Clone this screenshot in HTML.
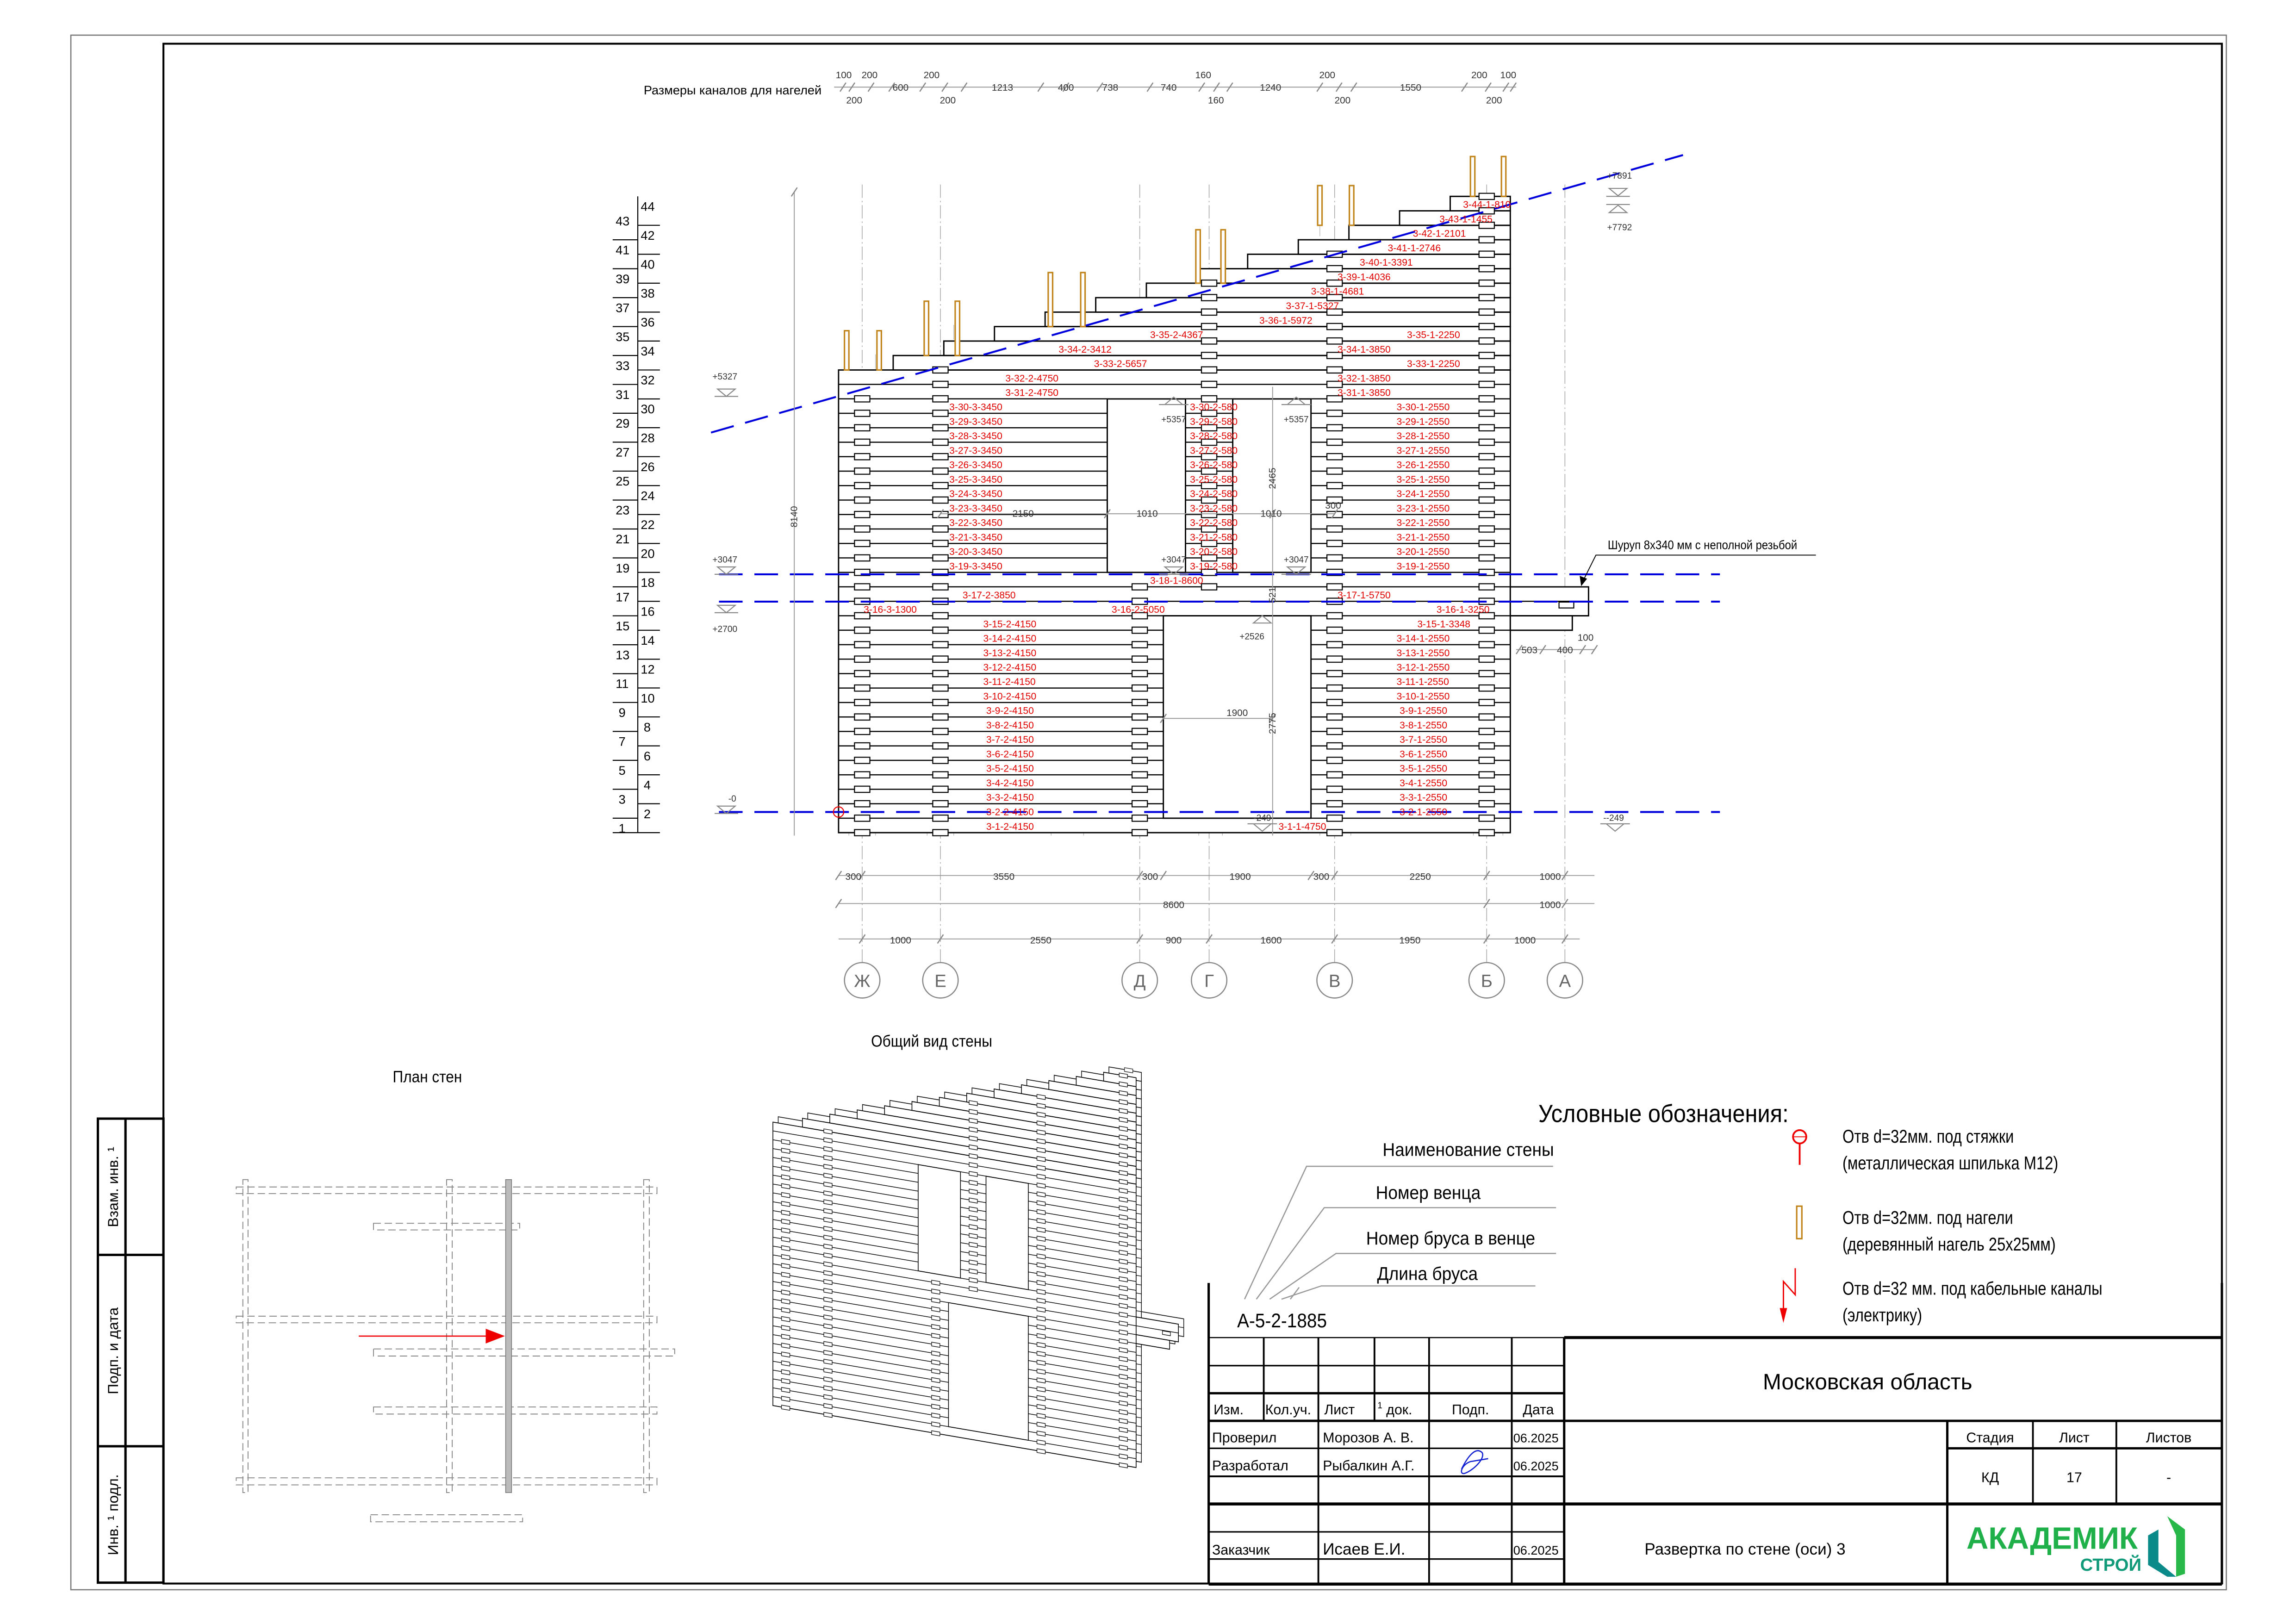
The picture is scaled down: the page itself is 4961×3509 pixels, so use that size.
<!DOCTYPE html>
<html><head><meta charset="utf-8"><style>
html,body{margin:0;padding:0;background:#fff;}
svg{display:block;}
text{font-family:"Liberation Sans Narrow","Liberation Sans",sans-serif;}
.r{fill:#e00000;font-size:6.6px;}
.d{fill:#333;font-size:6.5px;}
.k{fill:#000;}
</style></head><body>
<svg width="4961" height="3509" viewBox="0 0 1555.2 1100" xmlns="http://www.w3.org/2000/svg">
<defs>
<pattern id="hl" patternUnits="userSpaceOnUse" x="0" y="0.78" width="20" height="9.795">
<rect x="0" y="0" width="20" height="9.795" fill="#fff"/>
<line x1="0" y1="4.8975" x2="20" y2="4.8975" stroke="#000" stroke-width="0.8"/>
</pattern>
<pattern id="dw" patternUnits="userSpaceOnUse" x="0" y="0.78" width="12" height="9.795">
<rect x="0.8" y="2.8" width="10.4" height="4.2" fill="#fff" stroke="#000" stroke-width="0.7"/>
</pattern>
<g id="wallg">
<rect x="568" y="250.6" width="455" height="313.4" fill="url(#hl)" stroke="#000" stroke-width="0.9"/>
<rect x="605" y="240.8" width="418" height="9.795" fill="url(#hl)" stroke="#000" stroke-width="0.9"/>
<rect x="639.3" y="231.0" width="383.7" height="9.795" fill="url(#hl)" stroke="#000" stroke-width="0.9"/>
<rect x="673.6" y="221.2" width="349.4" height="9.795" fill="url(#hl)" stroke="#000" stroke-width="0.9"/>
<rect x="707.9" y="211.4" width="315.1" height="9.795" fill="url(#hl)" stroke="#000" stroke-width="0.9"/>
<rect x="742.2" y="201.6" width="280.8" height="9.795" fill="url(#hl)" stroke="#000" stroke-width="0.9"/>
<rect x="776.5" y="191.8" width="246.5" height="9.795" fill="url(#hl)" stroke="#000" stroke-width="0.9"/>
<rect x="810.8" y="182.0" width="212.2" height="9.795" fill="url(#hl)" stroke="#000" stroke-width="0.9"/>
<rect x="845.1" y="172.2" width="177.9" height="9.795" fill="url(#hl)" stroke="#000" stroke-width="0.9"/>
<rect x="879.4" y="162.4" width="143.6" height="9.795" fill="url(#hl)" stroke="#000" stroke-width="0.9"/>
<rect x="913.7" y="152.6" width="109.3" height="9.795" fill="url(#hl)" stroke="#000" stroke-width="0.9"/>
<rect x="948" y="142.8" width="75" height="9.795" fill="url(#hl)" stroke="#000" stroke-width="0.9"/>
<rect x="982.3" y="133.0" width="40.7" height="9.795" fill="url(#hl)" stroke="#000" stroke-width="0.9"/>
<rect x="1023" y="397.5" width="53" height="19.6" fill="url(#hl)" stroke="#000" stroke-width="0.9"/>
<rect x="1023" y="417.1" width="42" height="9.8" fill="url(#hl)" stroke="#000" stroke-width="0.9"/>
<rect x="1056" y="407.8" width="10" height="4" fill="#fff" stroke="#000" stroke-width="0.7"/>
<rect x="750" y="270.2" width="53" height="117.5" fill="#fff" stroke="#000" stroke-width="0.9"/>
<rect x="835" y="270.2" width="53" height="117.5" fill="#fff" stroke="#000" stroke-width="0.9"/>
<rect x="788" y="417.1" width="100" height="137.1" fill="#fff" stroke="#000" stroke-width="0.9"/>
<g transform="translate(578,0)"><rect x="0" y="267.7" width="12" height="298.8" fill="url(#dw)"/></g>
<g transform="translate(631,0)"><rect x="0" y="248.1" width="12" height="318.4" fill="url(#dw)"/></g>
<g transform="translate(766,0)"><rect x="0" y="395" width="12" height="171.5" fill="url(#dw)"/></g>
<g transform="translate(813,0)"><rect x="0" y="189.3" width="12" height="210.7" fill="url(#dw)"/></g>
<g transform="translate(898,0)"><rect x="0" y="169.7" width="12" height="396.8" fill="url(#dw)"/></g>
<g transform="translate(1001,0)"><rect x="0" y="130.5" width="12" height="436" fill="url(#dw)"/></g>
</g>
</defs>
<rect width="1555.2" height="1100" fill="#fff"/>

<!-- frames -->
<rect x="48" y="23.8" width="1460" height="1053" fill="none" stroke="#777" stroke-width="0.8"/>
<rect x="110.7" y="29.6" width="1394.3" height="1043" fill="none" stroke="#000" stroke-width="1.3"/>
<g stroke="#000" stroke-width="1.6" fill="none">
<rect x="66.3" y="757.7" width="44.4" height="314.3"/>
<line x1="85" y1="757.7" x2="85" y2="1072"/>
<line x1="66.3" y1="850" x2="110.7" y2="850"/>
<line x1="66.3" y1="979.6" x2="110.7" y2="979.6"/>
</g>
<text transform="translate(80,804) rotate(-90)" text-anchor="middle" font-size="10">Взам. инв. ¹</text>
<text transform="translate(80,915) rotate(-90)" text-anchor="middle" font-size="10">Подп. и дата</text>
<text transform="translate(80,1026) rotate(-90)" text-anchor="middle" font-size="10">Инв. ¹ подл.</text>

<!-- gray axis / dashed verticals -->
<g stroke="#aaa" stroke-width="0.5" stroke-dasharray="9 2 1 2" fill="none">
<line x1="584" y1="125" x2="584" y2="652"/><line x1="637" y1="125" x2="637" y2="652"/>
<line x1="772" y1="125" x2="772" y2="652"/><line x1="819" y1="125" x2="819" y2="652"/>
<line x1="904" y1="125" x2="904" y2="652"/><line x1="1007" y1="125" x2="1007" y2="652"/>
<line x1="1060" y1="125" x2="1060" y2="652"/>
</g>
<g stroke="#bbb" stroke-width="0.45" stroke-dasharray="10 2" fill="none">
<line x1="575" y1="240" x2="575" y2="566"/><line x1="593" y1="240" x2="593" y2="566"/>
<line x1="628" y1="220" x2="628" y2="566"/><line x1="646" y1="220" x2="646" y2="566"/>
<line x1="712" y1="200" x2="712" y2="566"/><line x1="734" y1="200" x2="734" y2="566"/>
<line x1="812" y1="175" x2="812" y2="566"/><line x1="828" y1="175" x2="828" y2="566"/>
<line x1="894" y1="150" x2="894" y2="566"/><line x1="915" y1="150" x2="915" y2="566"/>
<line x1="998" y1="130" x2="998" y2="566"/><line x1="1018" y1="130" x2="1018" y2="566"/>
</g>

<use href="#wallg"/>

<!-- nagels -->
<g fill="#fff" stroke="#c0841a" stroke-width="1">
<rect x="572" y="224" width="3" height="26.6"/><rect x="594" y="224" width="3" height="26.6"/>
<rect x="626" y="204" width="3" height="36.8"/><rect x="647" y="204" width="3" height="36.8"/>
<rect x="710" y="184.6" width="3" height="36.6"/><rect x="732" y="184.6" width="3" height="36.6"/>
<rect x="810" y="155.6" width="3" height="36.2"/><rect x="827" y="155.6" width="3" height="36.2"/>
<rect x="892.5" y="125.7" width="3" height="26.9"/><rect x="914" y="125.7" width="3" height="26.9"/>
<rect x="996" y="106" width="3" height="27"/><rect x="1017" y="106" width="3" height="27"/>
</g>

<g stroke="#0000dd" stroke-width="1.3" stroke-dasharray="16 8" fill="none">
<line x1="481.6" y1="293" x2="1140" y2="105"/>
<line x1="487" y1="389" x2="1165" y2="389"/>
<line x1="487" y1="407.5" x2="1165" y2="407.5"/>
<line x1="487" y1="550" x2="1165" y2="550"/>
</g>
<circle cx="568" cy="550" r="3.5" fill="none" stroke="#e00" stroke-width="0.7"/>

<!-- left row scale -->
<g stroke="#000" stroke-width="0.7">
<line x1="432" y1="133" x2="432" y2="564"/>
<line x1="432" y1="152.6" x2="447" y2="152.6"/><line x1="415" y1="162.4" x2="432" y2="162.4"/>
<line x1="432" y1="172.2" x2="447" y2="172.2"/><line x1="415" y1="182.0" x2="432" y2="182.0"/>
<line x1="432" y1="191.8" x2="447" y2="191.8"/><line x1="415" y1="201.6" x2="432" y2="201.6"/>
<line x1="432" y1="211.4" x2="447" y2="211.4"/><line x1="415" y1="221.2" x2="432" y2="221.2"/>
<line x1="432" y1="231.0" x2="447" y2="231.0"/><line x1="415" y1="240.8" x2="432" y2="240.8"/>
<line x1="432" y1="250.6" x2="447" y2="250.6"/><line x1="415" y1="260.4" x2="432" y2="260.4"/>
<line x1="432" y1="270.2" x2="447" y2="270.2"/><line x1="415" y1="279.9" x2="432" y2="279.9"/>
<line x1="432" y1="289.7" x2="447" y2="289.7"/><line x1="415" y1="299.5" x2="432" y2="299.5"/>
<line x1="432" y1="309.3" x2="447" y2="309.3"/><line x1="415" y1="319.1" x2="432" y2="319.1"/>
<line x1="432" y1="328.9" x2="447" y2="328.9"/><line x1="415" y1="338.7" x2="432" y2="338.7"/>
<line x1="432" y1="348.5" x2="447" y2="348.5"/><line x1="415" y1="358.3" x2="432" y2="358.3"/>
<line x1="432" y1="368.1" x2="447" y2="368.1"/><line x1="415" y1="377.9" x2="432" y2="377.9"/>
<line x1="432" y1="387.7" x2="447" y2="387.7"/><line x1="415" y1="397.5" x2="432" y2="397.5"/>
<line x1="432" y1="407.3" x2="447" y2="407.3"/><line x1="415" y1="417.1" x2="432" y2="417.1"/>
<line x1="432" y1="426.9" x2="447" y2="426.9"/><line x1="415" y1="436.7" x2="432" y2="436.7"/>
<line x1="432" y1="446.5" x2="447" y2="446.5"/><line x1="415" y1="456.3" x2="432" y2="456.3"/>
<line x1="432" y1="466.0" x2="447" y2="466.0"/><line x1="415" y1="475.8" x2="432" y2="475.8"/>
<line x1="432" y1="485.6" x2="447" y2="485.6"/><line x1="415" y1="495.4" x2="432" y2="495.4"/>
<line x1="432" y1="505.2" x2="447" y2="505.2"/><line x1="415" y1="515.0" x2="432" y2="515.0"/>
<line x1="432" y1="524.8" x2="447" y2="524.8"/><line x1="415" y1="534.6" x2="432" y2="534.6"/>
<line x1="432" y1="544.4" x2="447" y2="544.4"/><line x1="415" y1="554.2" x2="432" y2="554.2"/>
<line x1="432" y1="564" x2="447" y2="564"/><line x1="415" y1="564" x2="432" y2="564"/>
</g>
<g font-size="8.5" class="k">
<text x="434" y="142.8">44</text><text x="417" y="152.6">43</text><text x="434" y="162.4">42</text><text x="417" y="172.2">41</text>
<text x="434" y="182.0">40</text><text x="417" y="191.8">39</text><text x="434" y="201.6">38</text><text x="417" y="211.4">37</text>
<text x="434" y="221.2">36</text><text x="417" y="231.0">35</text><text x="434" y="240.8">34</text><text x="417" y="250.6">33</text>
<text x="434" y="260.4">32</text><text x="417" y="270.2">31</text><text x="434" y="279.9">30</text><text x="417" y="289.7">29</text>
<text x="434" y="299.5">28</text><text x="417" y="309.3">27</text><text x="434" y="319.1">26</text><text x="417" y="328.9">25</text>
<text x="434" y="338.7">24</text><text x="417" y="348.5">23</text><text x="434" y="358.3">22</text><text x="417" y="368.1">21</text>
<text x="434" y="377.9">20</text><text x="417" y="387.7">19</text><text x="434" y="397.5">18</text><text x="417" y="407.3">17</text>
<text x="434" y="417.1">16</text><text x="417" y="426.9">15</text><text x="434" y="436.7">14</text><text x="417" y="446.5">13</text>
<text x="434" y="456.3">12</text><text x="417" y="466.0">11</text><text x="434" y="475.8">10</text><text x="419" y="485.6">9</text>
<text x="436" y="495.4">8</text><text x="419" y="505.2">7</text><text x="436" y="515.0">6</text><text x="419" y="524.8">5</text>
<text x="436" y="534.6">4</text><text x="419" y="544.4">3</text><text x="436" y="554.2">2</text><text x="419" y="564">1</text>
</g>

<g class="r">
<text x="991" y="140.8">3-44-1-810</text>
<text x="975" y="150.6">3-43-1-1455</text>
<text x="957" y="160.4">3-42-1-2101</text>
<text x="940" y="170.2">3-41-1-2746</text>
<text x="921" y="180.0">3-40-1-3391</text>
<text x="906" y="189.8">3-39-1-4036</text>
<text x="888" y="199.6">3-38-1-4681</text>
<text x="871" y="209.4">3-37-1-5327</text>
<text x="853" y="219.2">3-36-1-5972</text>
<text x="779" y="229.0">3-35-2-4367</text><text x="953" y="229.0">3-35-1-2250</text>
<text x="717" y="238.8">3-34-2-3412</text><text x="906" y="238.8">3-34-1-3850</text>
<text x="741" y="248.6">3-33-2-5657</text><text x="953" y="248.6">3-33-1-2250</text>
<text x="681" y="258.4">3-32-2-4750</text><text x="906" y="258.4">3-32-1-3850</text>
<text x="681" y="268.2">3-31-2-4750</text><text x="906" y="268.2">3-31-1-3850</text>
<text x="643" y="277.9">3-30-3-3450</text><text x="806" y="277.9">3-30-2-580</text><text x="946" y="277.9">3-30-1-2550</text>
<text x="643" y="287.7">3-29-3-3450</text><text x="806" y="287.7">3-29-2-580</text><text x="946" y="287.7">3-29-1-2550</text>
<text x="643" y="297.5">3-28-3-3450</text><text x="806" y="297.5">3-28-2-580</text><text x="946" y="297.5">3-28-1-2550</text>
<text x="643" y="307.3">3-27-3-3450</text><text x="806" y="307.3">3-27-2-580</text><text x="946" y="307.3">3-27-1-2550</text>
<text x="643" y="317.1">3-26-3-3450</text><text x="806" y="317.1">3-26-2-580</text><text x="946" y="317.1">3-26-1-2550</text>
<text x="643" y="326.9">3-25-3-3450</text><text x="806" y="326.9">3-25-2-580</text><text x="946" y="326.9">3-25-1-2550</text>
<text x="643" y="336.7">3-24-3-3450</text><text x="806" y="336.7">3-24-2-580</text><text x="946" y="336.7">3-24-1-2550</text>
<text x="643" y="346.5">3-23-3-3450</text><text x="806" y="346.5">3-23-2-580</text><text x="946" y="346.5">3-23-1-2550</text>
<text x="643" y="356.3">3-22-3-3450</text><text x="806" y="356.3">3-22-2-580</text><text x="946" y="356.3">3-22-1-2550</text>
<text x="643" y="366.1">3-21-3-3450</text><text x="806" y="366.1">3-21-2-580</text><text x="946" y="366.1">3-21-1-2550</text>
<text x="643" y="375.9">3-20-3-3450</text><text x="806" y="375.9">3-20-2-580</text><text x="946" y="375.9">3-20-1-2550</text>
<text x="643" y="385.7">3-19-3-3450</text><text x="806" y="385.7">3-19-2-580</text><text x="946" y="385.7">3-19-1-2550</text>
<text x="779" y="395.5">3-18-1-8600</text>
<text x="652" y="405.3">3-17-2-3850</text><text x="906" y="405.3">3-17-1-5750</text>
<text x="585" y="415.1">3-16-3-1300</text><text x="753" y="415.1">3-16-2-5050</text><text x="973" y="415.1">3-16-1-3250</text>
<text x="666" y="424.9">3-15-2-4150</text><text x="960" y="424.9">3-15-1-3348</text>
<text x="666" y="434.7">3-14-2-4150</text><text x="946" y="434.7">3-14-1-2550</text>
<text x="666" y="444.5">3-13-2-4150</text><text x="946" y="444.5">3-13-1-2550</text>
<text x="666" y="454.3">3-12-2-4150</text><text x="946" y="454.3">3-12-1-2550</text>
<text x="666" y="464.0">3-11-2-4150</text><text x="946" y="464.0">3-11-1-2550</text>
<text x="666" y="473.8">3-10-2-4150</text><text x="946" y="473.8">3-10-1-2550</text>
<text x="668" y="483.6">3-9-2-4150</text><text x="948" y="483.6">3-9-1-2550</text>
<text x="668" y="493.4">3-8-2-4150</text><text x="948" y="493.4">3-8-1-2550</text>
<text x="668" y="503.2">3-7-2-4150</text><text x="948" y="503.2">3-7-1-2550</text>
<text x="668" y="513.0">3-6-2-4150</text><text x="948" y="513.0">3-6-1-2550</text>
<text x="668" y="522.8">3-5-2-4150</text><text x="948" y="522.8">3-5-1-2550</text>
<text x="668" y="532.6">3-4-2-4150</text><text x="948" y="532.6">3-4-1-2550</text>
<text x="668" y="542.4">3-3-2-4150</text><text x="948" y="542.4">3-3-1-2550</text>
<text x="668" y="552.2">3-2-2-4150</text><text x="948" y="552.2">3-2-1-2550</text>
<text x="668" y="562">3-1-2-4150</text><text x="866" y="562">3-1-1-4750</text>
</g>

<g stroke="#999" stroke-width="0.6" fill="none">
<line x1="565" y1="59" x2="1027" y2="59"/>
<line x1="538" y1="130" x2="538" y2="566"/>
<line x1="637" y1="348" x2="904" y2="348"/>
<line x1="862" y1="262" x2="862" y2="566"/>
<line x1="788" y1="486.6" x2="862" y2="486.6"/>
<line x1="1027" y1="440" x2="1080" y2="440"/>
<line x1="568" y1="593" x2="1080" y2="593"/>
<line x1="568" y1="612" x2="1080" y2="612"/>
<line x1="568" y1="636" x2="1070" y2="636"/>
</g>
<g stroke="#888" stroke-width="0.8">
<path d="M569 62 l4 -6 M575 62 l4 -6 M588 62 l4 -6 M602 62 l4 -6 M623 62 l4 -6 M638 62 l4 -6 M651 62 l4 -6 M703 62 l4 -6 M720 62 l4 -6 M743 62 l4 -6 M777 62 l4 -6 M812 62 l4 -6 M822 62 l4 -6 M831 62 l4 -6 M892 62 l4 -6 M905 62 l4 -6 M915 62 l4 -6 M990 62 l4 -6 M1006 62 l4 -6 M1018 62 l4 -6 M1023 62 l4 -6"/>
<path d="M536 133 l4 -6 M566 596 l4 -6 M582 596 l4 -6 M770 596 l4 -6 M786 596 l4 -6 M886 596 l4 -6 M902 596 l4 -6 M1005 596 l4 -6 M1058 596 l4 -6 M566 615 l4 -6 M1005 615 l4 -6 M1058 615 l4 -6 M582 639 l4 -6 M635 639 l4 -6 M770 639 l4 -6 M817 639 l4 -6 M902 639 l4 -6 M1005 639 l4 -6 M1058 639 l4 -6 M635 351 l4 -6 M748 351 l4 -6 M860 351 l4 -6 M902 351 l4 -6 M786 489.6 l4 -6 M860 489.6 l4 -6 M1027 443 l4 -6 M1043 443 l4 -6 M1070 443 l4 -6 M1078 443 l4 -6"/>
</g>
<g class="d">
<text x="436" y="64" font-size="8.5" fill="#000">Размеры каналов для нагелей</text>
<g text-anchor="middle">
<text x="571.5" y="53">100</text><text x="589" y="53">200</text><text x="631" y="53">200</text><text x="815" y="53">160</text><text x="899" y="53">200</text><text x="1002" y="53">200</text><text x="1021.6" y="53">100</text>
<text x="610" y="61.5">600</text><text x="679" y="61.5">1213</text><text x="722" y="61.5">400</text><text x="752" y="61.5">738</text><text x="791.6" y="61.5">740</text><text x="860.6" y="61.5">1240</text><text x="955.5" y="61.5">1550</text>
<text x="578.6" y="70">200</text><text x="642" y="70">200</text><text x="823.6" y="70">160</text><text x="909.4" y="70">200</text><text x="1012" y="70">200</text>
<text x="578" y="596">300</text><text x="680" y="596">3550</text><text x="779" y="596">300</text><text x="840" y="596">1900</text><text x="895" y="596">300</text><text x="962" y="596">2250</text><text x="1050" y="596">1000</text>
<text x="795" y="615">8600</text><text x="1050" y="615">1000</text>
<text x="610" y="639">1000</text><text x="705" y="639">2550</text><text x="795" y="639">900</text><text x="861" y="639">1600</text><text x="955" y="639">1950</text><text x="1033" y="639">1000</text>
<text x="693" y="350">2150</text><text x="777" y="350">1010</text><text x="861" y="350">1010</text><text x="903" y="344.5">300</text>
<text x="838" y="485">1900</text>
<text x="1036" y="442.5">503</text><text x="1060" y="442.5">400</text><text x="1074" y="434">100</text>
</g>
<text transform="translate(540,350) rotate(-90)" text-anchor="middle">8140</text>
<text transform="translate(864,324) rotate(-90)" text-anchor="middle">2465</text>
<text transform="translate(864,403) rotate(-90)" text-anchor="middle">521</text>
<text transform="translate(864,490) rotate(-90)" text-anchor="middle">2775</text>
<g text-anchor="middle" font-size="6">
<text x="491" y="257">+5327</text><text x="491" y="381">+3047</text><text x="491" y="428">+2700</text><text x="496" y="543">-0</text>
<text x="795" y="286">+5357</text><text x="878" y="286">+5357</text><text x="795" y="381">+3047</text><text x="878" y="381">+3047</text>
<text x="848" y="433">+2526</text><text x="855" y="556">-249</text><text x="1093" y="556">--249</text>
<text x="1097" y="121">+7891</text><text x="1097" y="156">+7792</text>
</g>
</g>
<g fill="none" stroke="#888" stroke-width="0.7">
<path d="M486 263.5 h12 l-6 5 z M484 268.5 h16"/>
<path d="M486 384 h12 l-6 5 z M484 389 h16"/>
<path d="M486 410 h12 l-6 5 z M484 415 h16"/>
<path d="M486 546 h12 l-6 5 z M484 551 h16"/>
<path d="M789 274 h12 l-6 -5 z M785 274 h20"/><path d="M872 274 h12 l-6 -5 z M868 274 h20"/>
<path d="M789 384 h12 l-6 5 z M785 389 h20"/><path d="M872 384 h12 l-6 5 z M868 389 h20"/>
<path d="M849 422 h12 l-6 -5 z"/>
<path d="M849 558 h12 l-6 5 z M845 558 h20"/><path d="M1088 558 h12 l-6 5 z M1084 558 h20"/>
<path d="M1090 127.6 h12 l-6 5 z M1088 133 h16 M1090 144 h12 l-6 -5 z M1088 138.5 h16"/>
</g>

<text x="1089" y="372" font-size="8.5" transform="translate(1089,0) scale(0.88,1) translate(-1089,0)">Шуруп 8х340 мм с неполной резьбой</text>
<path d="M1230 376 H1081 L1072 394" stroke="#000" stroke-width="0.6" fill="none"/>
<path d="M1071 397 l-1 -7 l5 2 z" fill="#000"/>

<g fill="none" stroke="#888" stroke-width="0.8">
<circle cx="584" cy="664" r="12"/><circle cx="637" cy="664" r="12"/><circle cx="772" cy="664" r="12"/><circle cx="819" cy="664" r="12"/><circle cx="904" cy="664" r="12"/><circle cx="1007" cy="664" r="12"/><circle cx="1060" cy="664" r="12"/>
</g>
<g font-size="12" text-anchor="middle" fill="#666">
<text x="584" y="668.5">Ж</text><text x="637" y="668.5">Е</text><text x="772" y="668.5">Д</text><text x="819" y="668.5">Г</text><text x="904" y="668.5">В</text><text x="1007" y="668.5">Б</text><text x="1060" y="668.5">А</text>
</g>

<text x="590" y="709" font-size="11" transform="translate(590,0) scale(0.9,1) translate(-590,0)">Общий вид стены</text>
<text x="266" y="733" font-size="11" transform="translate(266,0) scale(0.9,1) translate(-266,0)">План стен</text>

<g fill="none" stroke="#888" stroke-width="0.6" stroke-dasharray="5 2.5">
<rect x="160" y="804" width="285" height="4.5"/>
<rect x="253" y="828.6" width="99" height="4.5"/>
<rect x="160" y="891.5" width="285" height="4.5"/>
<rect x="253" y="913.7" width="204" height="4.8"/>
<rect x="253" y="953" width="192" height="4.8"/>
<rect x="160" y="1001" width="285" height="4.8"/>
<rect x="251" y="1026" width="103" height="4.8"/>
<rect x="164.5" y="799" width="3.5" height="212"/>
<rect x="302.5" y="799" width="3.8" height="212"/>
<rect x="436" y="799" width="3.8" height="212"/>
</g>
<rect x="342.5" y="799" width="4" height="212" fill="#bbb" stroke="#777" stroke-width="0.5"/>
<line x1="243" y1="905" x2="330" y2="905" stroke="#e00" stroke-width="0.8"/>
<path d="M329 900 L342 905 L329 910 z" fill="#e00"/>

<g transform="matrix(0.5407 0.0923 0 0.6126 220 550.5)" opacity="0.9"><use href="#wallg"/></g>
<g transform="matrix(0.5407 0.0923 0 0.6126 216.4 554.1)"><use href="#wallg"/></g>

<!-- legend -->
<text x="1042" y="760" font-size="17" transform="translate(1042,0) scale(0.9,1) translate(-1042,0)">Условные обозначения:</text>
<g font-size="12.5" transform="translate(930,0) scale(0.93,1) translate(-930,0)">
<text x="937" y="783">Наименование стены</text>
<text x="932" y="812">Номер венца</text>
<text x="925" y="843">Номер бруса в венце</text>
<text x="933" y="867">Длина бруса</text>
</g>
<text x="838" y="899" font-size="13.5" transform="translate(838,0) scale(0.9,1) translate(-838,0)">А-5-2-1885</text>
<g stroke="#999" stroke-width="0.8" fill="none">
<path d="M843 880 L885 790 H1052"/>
<path d="M851 880 L897 818 H1054"/>
<path d="M860 880 L905 849 H1054"/>
<path d="M868 880 L895 871 H1040"/>
<path d="M874 880 L880 872"/>
</g>
<circle cx="1219" cy="770" r="4.5" fill="none" stroke="#e00" stroke-width="1.2"/>
<line x1="1219" y1="774.5" x2="1219" y2="789" stroke="#e00" stroke-width="1.2"/>
<line x1="1215" y1="770" x2="1223" y2="770" stroke="#e00" stroke-width="0.6"/>
<rect x="1217" y="817" width="3.5" height="22" fill="#fff" stroke="#c0841a" stroke-width="1"/>
<path d="M1216 859 V877 L1208 868 V888" fill="none" stroke="#e00" stroke-width="0.9"/>
<path d="M1205.5 886 L1208 896 L1210.5 886 z" fill="#e00"/>
<g font-size="12.5" transform="translate(1248,0) scale(0.82,1) translate(-1248,0)">
<text x="1248" y="774">Отв d=32мм. под стяжки</text>
<text x="1248" y="792">(металлическая шпилька М12)</text>
<text x="1248" y="829">Отв d=32мм. под нагели</text>
<text x="1248" y="847">(деревянный нагель 25х25мм)</text>
<text x="1248" y="877">Отв d=32 мм. под кабельные каналы</text>
<text x="1248" y="895">(электрику)</text>
</g>

<!-- title block -->
<g stroke="#000" fill="none">
<line x1="818.7" y1="869" x2="818.7" y2="1073" stroke-width="1.6"/>
<line x1="1505" y1="869" x2="1505" y2="1073" stroke-width="1.6"/>
<line x1="818.7" y1="906" x2="1059.5" y2="906" stroke-width="0.8"/>
<line x1="1059.5" y1="906" x2="1505" y2="906" stroke-width="2"/>
<line x1="818.7" y1="925" x2="1059.5" y2="925" stroke-width="1"/>
<line x1="818.7" y1="943.7" x2="1059.5" y2="943.7" stroke-width="1.6"/>
<line x1="818.7" y1="962.4" x2="1505" y2="962.4" stroke-width="1.6"/>
<line x1="818.7" y1="981" x2="1059.5" y2="981" stroke-width="1"/>
<line x1="1319" y1="981" x2="1505" y2="981" stroke-width="1.6"/>
<line x1="818.7" y1="1000" x2="1059.5" y2="1000" stroke-width="1.2"/>
<line x1="818.7" y1="1018.7" x2="1505" y2="1018.7" stroke-width="2"/>
<line x1="818.7" y1="1037.6" x2="1059.5" y2="1037.6" stroke-width="1"/>
<line x1="818.7" y1="1056" x2="1059.5" y2="1056" stroke-width="1"/>
<line x1="818.7" y1="1073" x2="1505" y2="1073" stroke-width="2"/>
<line x1="856" y1="906" x2="856" y2="962.4" stroke-width="1.2"/>
<line x1="931" y1="906" x2="931" y2="962.4" stroke-width="1.2"/>
<line x1="893" y1="906" x2="893" y2="1073" stroke-width="1.2"/>
<line x1="968" y1="906" x2="968" y2="1073" stroke-width="1.2"/>
<line x1="1024" y1="906" x2="1024" y2="1073" stroke-width="1.2"/>
<line x1="1059.5" y1="906" x2="1059.5" y2="1073" stroke-width="1.6"/>
<line x1="1319" y1="962.4" x2="1319" y2="1073" stroke-width="1.6"/>
<line x1="1377" y1="962.4" x2="1377" y2="1018.7" stroke-width="1.2"/>
<line x1="1433.5" y1="962.4" x2="1433.5" y2="1018.7" stroke-width="1.2"/>
</g>
<g font-size="9.5">
<text x="822" y="958">Изм.</text><text x="857" y="958">Кол.уч.</text><text x="897" y="958">Лист</text><text x="933" y="958"><tspan font-size="6" dy="-4">1</tspan><tspan dy="4"> док.</tspan></text>
<text x="996" y="958" text-anchor="middle">Подп.</text><text x="1042" y="958" text-anchor="middle">Дата</text>
<text x="821" y="977">Проверил</text><text x="896" y="977">Морозов А. В.</text><text x="1025" y="977" font-size="8.5">06.2025</text>
<text x="821" y="996">Разработал</text><text x="896" y="996">Рыбалкин А.Г.</text><text x="1025" y="996" font-size="8.5">06.2025</text>
<text x="821" y="1053">Заказчик</text><text x="896" y="1053" font-size="11">Исаев Е.И.</text><text x="1025" y="1053" font-size="8.5">06.2025</text>
<text x="1348" y="977" text-anchor="middle">Стадия</text><text x="1405" y="977" text-anchor="middle">Лист</text><text x="1469" y="977" text-anchor="middle">Листов</text>
<text x="1348" y="1004" text-anchor="middle">КД</text><text x="1405" y="1004" text-anchor="middle">17</text><text x="1469" y="1004" text-anchor="middle">-</text>
</g>
<text x="1265" y="941" font-size="15" text-anchor="middle">Московская область</text>
<text x="1182" y="1053" font-size="11" text-anchor="middle">Развертка по стене (оси) 3</text>
<path d="M990 995 C995 985,1000 980,1004 984 C1006 988,998 996,992 998 C988 999,990 992,996 990 L1008 988" fill="none" stroke="#1020d0" stroke-width="0.8"/>
<text x="1332" y="1049" font-size="21" font-weight="bold" fill="#1fb04a" textLength="116" lengthAdjust="spacingAndGlyphs">АКАДЕМИК</text>
<text x="1409" y="1064" font-size="12" font-weight="bold" fill="#119a7a">СТРОЙ</text>
<path d="M1468 1027 L1480 1036 V1066 L1474 1068 V1040 Z" fill="#28b84a"/>
<path d="M1455 1040 L1462 1036 V1058 L1474 1068 L1468 1068 L1455 1060 Z" fill="#0b8a8a"/>
</svg>
</body></html>
